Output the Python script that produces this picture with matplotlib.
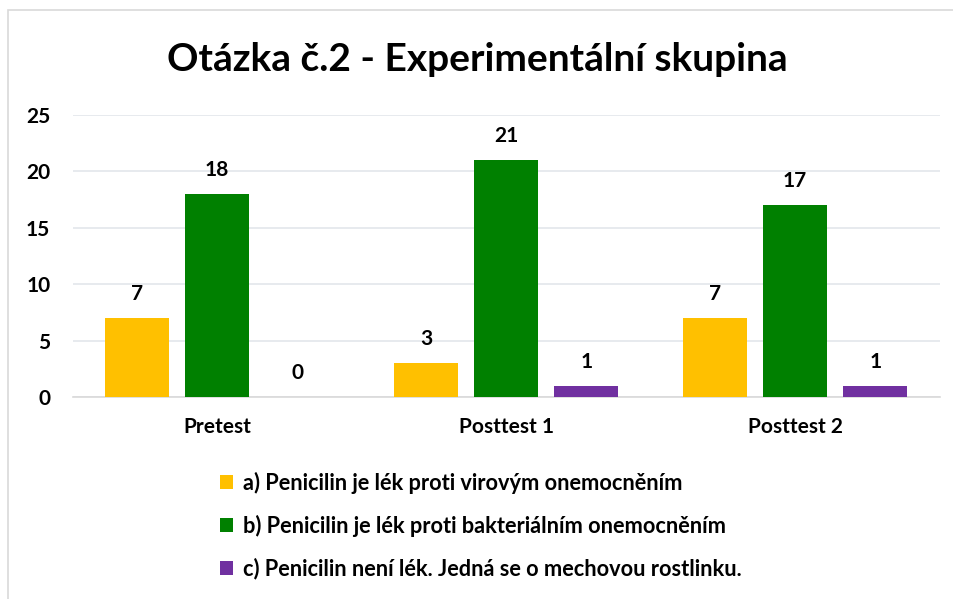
import numpy as np
import matplotlib
matplotlib.use('Agg')
from matplotlib import pyplot as plt
from matplotlib.patches import Rectangle

plt.rcParams['font.family'] = ['Lato', 'DejaVu Sans']
plt.rcParams['font.weight'] = 'bold'

# data
kategorie = ['Pretest', 'Posttest 1', 'Posttest 2']
odpoved_a = [7, 3, 7]
odpoved_b = [18, 21, 17]
odpoved_c = [0, 1, 1]
nazvy = ['a) Penicilin je lék proti virovým onemocněním',
         'b) Penicilin je lék proti bakteriálním onemocněním',
         'c) Penicilin není lék. Jedná se o mechovou rostlinku.']
barvy = ['#FFC000', '#008000', '#7030A0']

fig = plt.figure(figsize=(9.54, 5.99), dpi=100)
fig.patches.append(Rectangle((8/954, -0.01), 1.0, 1 - 10/599 + 0.01, transform=fig.transFigure,
                             fill=False, edgecolor='#D9D9D9', linewidth=1.2))
ax = fig.add_axes([0.076, 0.337, 0.909, 0.471])

x = np.arange(len(kategorie))
sirka = 0.221
posun = 0.277
for k, (serie, nazev, barva) in enumerate(zip([odpoved_a, odpoved_b, odpoved_c], nazvy, barvy)):
    pozice = x + (k - 1) * posun
    ax.bar(pozice, serie, sirka, color=barva, label=nazev, zorder=3)
    for px, v in zip(pozice, serie):
        ax.annotate(str(v), (px, v), xytext=(0, 10), textcoords='offset points',
                    ha='center', va='bottom', fontsize=15, fontweight='bold')

ax.set_xlim(-0.5, 2.5)
ax.set_ylim(0, 25)
ax.set_yticks([0, 5, 10, 15, 20, 25])
ax.set_xticks(x)
ax.set_xticklabels(kategorie)
ax.tick_params(axis='both', length=0, labelsize=15)
ax.tick_params(axis='x', pad=14)
ax.tick_params(axis='y', pad=16)
ax.grid(axis='y', color='#E3E6EB', linewidth=1.2, zorder=0)
for s in ['top', 'right', 'left']:
    ax.spines[s].set_visible(False)
ax.spines['bottom'].set_color('#D9D9D9')
ax.spines['bottom'].set_linewidth(1.2)

fig.text(0.5, 0.9, 'Otázka č.2 - Experimentální skupina', ha='center', va='center',
         fontsize=28, fontweight='bold')

leg = fig.legend(loc='upper left', bbox_to_anchor=(0.231, 0.212), ncol=1, frameon=False,
                 fontsize=15.7, handlelength=0.6, handleheight=0.6, handletextpad=0.45,
                 labelspacing=0.95, borderaxespad=0, borderpad=0)

fig.savefig('out.png', dpi=100)
